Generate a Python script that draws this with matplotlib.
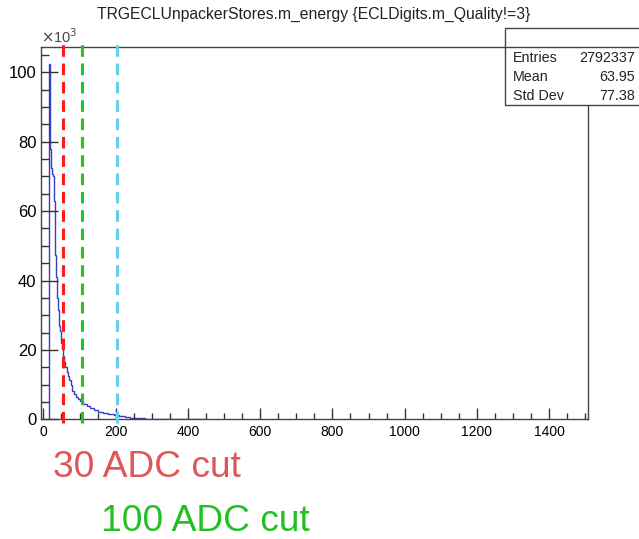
import matplotlib
matplotlib.use('Agg')
import matplotlib.pyplot as plt
from matplotlib.patches import Rectangle
from matplotlib.ticker import MultipleLocator

plt.rcParams['font.family'] = ['Liberation Sans', 'DejaVu Sans']

# histogram: bin edges (ADC) and counts (x10^3)
edges = [16, 17.5, 19, 20.5, 22, 23.5, 25, 26.5, 28, 29.5, 31, 32.5, 34, 36, 38,
         40, 42, 44, 46, 48, 50, 52, 55, 58, 61, 64, 67, 70, 75, 80, 85, 90, 95,
         100, 110, 120, 130, 140, 150, 165, 180, 195, 210, 225, 240, 260, 280,
         300, 330, 360, 400, 450]
counts = [102.3, 85.2, 78, 74.5, 72.5, 71.5, 70.8, 70.2, 69.5, 63, 52, 47.5, 44.5,
          41, 35, 31.5, 29, 27, 25.5, 23.5, 22, 20.3, 18.3, 16.5, 15, 13.7, 12.6,
          11.2, 9.8, 8.3, 7.2, 6.5, 5.9, 5.2, 4.5, 3.8, 3.2, 2.7, 2.2, 1.75, 1.4,
          1.1, 0.85, 0.65, 0.45, 0.25, 0.12, 0.07, 0.05, 0.04, 0.03]

cut_pos = [53, 107, 203]
cut_colors = ['#ff1a1a', '#1ec81e', '#66d0e8']

title = 'TRGECLUnpackerStores.m_energy {ECLDigits.m_Quality!=3}'
stats = [('Entries', '2792337'), ('Mean', '63.95'), ('Std Dev', '77.38')]

W, H = 639, 539
fig = plt.figure(figsize=(W / 100, H / 100), dpi=100)
ax = fig.add_axes([40.7 / W, 1 - 419.3 / H, (588 - 40.7) / W, (419.3 - 46.7) / H])

ax.stairs(counts, edges, baseline=0, color='#3c3cc0', linewidth=1.0)

for xp, c in zip(cut_pos, cut_colors):
    ax.plot([xp, xp], [-1, 108.5], color=c, linewidth=2.2,
            linestyle=(0, (3.8, 2.2)), clip_on=False, zorder=3)

ax.set_xlim(-7.5, 1507.5)
ax.set_ylim(0, 107.4)

ax.xaxis.set_major_locator(MultipleLocator(200))
ax.xaxis.set_minor_locator(MultipleLocator(50))
ax.yaxis.set_major_locator(MultipleLocator(20))
ax.yaxis.set_minor_locator(MultipleLocator(5))
ax.tick_params(axis='both', which='both', direction='in', color='#333333')
ax.tick_params(axis='x', which='major', length=8, width=1, labelsize=10, pad=4)
ax.tick_params(axis='x', which='minor', length=4.5, width=1)
ax.tick_params(axis='y', which='major', length=12, width=1, labelsize=12, pad=3)
ax.tick_params(axis='y', which='minor', length=6, width=1)
for s in ax.spines.values():
    s.set_color('#444444')
    s.set_linewidth(1.0)

ax.text(0, 1.003, r'$\times$10$^{3}$', transform=ax.transAxes, ha='left',
        va='bottom', fontsize=10.5, color='#444444')

fig.text(314 / W, 1 - 14 / H, title, ha='center', va='center', fontsize=11.3,
         color='#222222')

# stats box
box = Rectangle((505 / W, 1 - 105 / H), (645 - 505) / W, (105 - 28) / H,
                transform=fig.transFigure, facecolor='white', edgecolor='#444444',
                linewidth=1.0, zorder=5)
fig.patches.append(box)
fig.add_artist(plt.Line2D([505 / W, 1], [1 - 46.7 / H] * 2,
                          transform=fig.transFigure, color='#444444',
                          linewidth=1.0, zorder=6))
for i, (k, v) in enumerate(stats):
    yy = 1 - (58 + i * 19) / H
    fig.text(513 / W, yy, k, ha='left', va='center', fontsize=10.3,
             color='#222222', zorder=7)
    fig.text(635 / W, yy, v, ha='right', va='center', fontsize=10.3,
             color='#222222', zorder=7)

fig.text(53 / W, 1 - 476.7 / H, '30 ADC cut', ha='left', va='baseline',
         fontsize=26.7, color='#e05555')
fig.text(101 / W, 1 - 530.7 / H, '100 ADC cut', ha='left', va='baseline',
         fontsize=26.7, color='#22c022')

fig.savefig('out.png', dpi=100)
